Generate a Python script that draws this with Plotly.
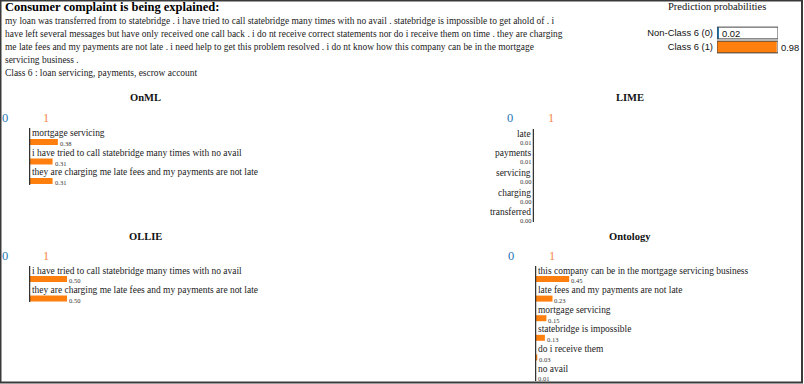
import plotly.graph_objects as go

# ---------------- data ----------------
title_text = "Consumer complaint is being explained:"
complaint_lines = [
    "my loan was transferred from to statebridge . i have tried to call statebridge many times with no avail . statebridge is impossible to get ahold of . i",
    "have left several messages but have only received one call back . i do nt receive correct statements nor do i receive them on time . they are charging",
    "me late fees and my payments are not late . i need help to get this problem resolved . i do nt know how this company can be in the mortgage",
    "servicing business .",
]
class_line = "Class 6 : loan servicing, payments, escrow account"

proba_title = "Prediction probabilities"
proba_labels = ["Non-Class 6 (0)", "Class 6 (1)"]
proba_values = [0.02, 0.98]

class_names = ["0", "1"]

onml_features = ["mortgage servicing",
                 "i have tried to call statebridge many times with no avail",
                 "they are charging me late fees and my payments are not late"]
onml_weights = [0.38, 0.31, 0.31]

lime_features = ["late", "payments", "servicing", "charging", "transferred"]
lime_weights = [0.01, 0.01, 0.00, 0.00, 0.00]

ollie_features = ["i have tried to call statebridge many times with no avail",
                  "they are charging me late fees and my payments are not late"]
ollie_weights = [0.50, 0.50]

onto_features = ["this company can be in the mortgage servicing business",
                 "late fees and my payments are not late",
                 "mortgage servicing",
                 "statebridge is impossible",
                 "do i receive them",
                 "no avail"]
onto_weights = [0.45, 0.23, 0.15, 0.13, 0.03, 0.01]

# ---------------- layout helpers ----------------
W, H = 804, 384
def px(x):
    return x / W
def py(y):
    return 1 - y / H

SERIF = "Liberation Serif"
SANS = "Liberation Sans"
BLUE = "#1f77b4"
ORANGE = "#ff7f0e"
PX_PER_UNIT = 76.0
TXT = 9.45

fig = go.Figure()
annotations = []
shapes = []
layout_axes = {}

# header text
annotations.append(dict(text="<b>%s</b>" % title_text, x=px(3), y=py(7), xref="paper", yref="paper",
                        xanchor="left", yanchor="middle", showarrow=False,
                        font=dict(family=SERIF, size=12.5, color="#000")))
for i, line in enumerate(complaint_lines):
    annotations.append(dict(text=line, x=px(3), y=py(21 + i * 12.9), xref="paper", yref="paper",
                            xanchor="left", yanchor="middle", showarrow=False,
                            font=dict(family=SERIF, size=TXT, color="#222")))
annotations.append(dict(text=class_line, x=px(3), y=py(73), xref="paper", yref="paper",
                        xanchor="left", yanchor="middle", showarrow=False,
                        font=dict(family=SERIF, size=TXT, color="#222")))

# ---------------- prediction probabilities ----------------
layout_axes["xaxis"] = dict(domain=[px(717), px(778)], range=[0, 1], visible=False, fixedrange=True)
layout_axes["yaxis"] = dict(domain=[py(54), py(26)], range=[1.5, -0.5], anchor="x",
                            tickvals=list(range(len(proba_labels))), ticktext=proba_labels,
                            showgrid=False, zeroline=False, showline=False, ticks="",
                            ticklabelstandoff=3, fixedrange=True,
                            tickfont=dict(family=SANS, size=9.4, color="#111"))
fig.add_trace(go.Bar(x=proba_values, y=list(range(len(proba_values))), orientation="h",
                     marker=dict(color=[BLUE, ORANGE], line=dict(width=0)), width=0.84,
                     xaxis="x", yaxis="y", showlegend=False, hoverinfo="skip"))
fig.add_trace(go.Bar(x=[1] * len(proba_values), y=list(range(len(proba_values))), orientation="h",
                     marker=dict(color="rgba(0,0,0,0)", line=dict(width=1, color="#444")), width=0.84,
                     xaxis="x", yaxis="y", showlegend=False, hoverinfo="skip"))
for i, v in enumerate(proba_values):
    annotations.append(dict(text="%.2f" % v, x=v, y=i, xref="x", yref="y", xanchor="left",
                            yanchor="middle", xshift=2, showarrow=False,
                            font=dict(family=SANS, size=9.4, color="#111")))
annotations.append(dict(text=proba_title, x=px(717), y=py(7), xref="paper", yref="paper",
                        xanchor="center", yanchor="middle", showarrow=False,
                        font=dict(family=SERIF, size=10.5, color="#111")))

# ---------------- explanation panels ----------------
panels = [
    # name, features, weights, axis x px, first bar y px, spacing, line top, line bottom, side, title y
    ("OnML", onml_features, onml_weights, 29, 142, 19.5, 128, 185, "right", 98),
    ("LIME", lime_features, lime_weights, 534, 142, 19.7, 129, 222, "left", 98),
    ("OLLIE", ollie_features, ollie_weights, 29, 279, 19.5, 266, 302, "right", 236),
    ("Ontology", onto_features, onto_weights, 535, 279, 19.6, 266, 381, "right", 236),
]

for k, (name, feats, wts, axx, bar0, sp, ltop, lbot, side, title_y) in enumerate(panels):
    n = k + 2
    xa, ya = "x%d" % n, "y%d" % n
    if side == "right":
        xdom = [px(axx), px(axx + 260)]
        xr = [0, 260 / PX_PER_UNIT]
        vals = list(wts)
        col = ORANGE
    else:
        xdom = [px(axx - 200), px(axx)]
        xr = [-200 / PX_PER_UNIT, 0]
        vals = [-w for w in wts]
        col = BLUE
    r_top = (ltop - bar0) / sp
    r_bot = (lbot - bar0) / sp
    layout_axes["xaxis%d" % n] = dict(domain=xdom, range=xr, visible=False, fixedrange=True, anchor=ya)
    layout_axes["yaxis%d" % n] = dict(domain=[py(lbot), py(ltop)], range=[r_bot, r_top],
                                      visible=False, fixedrange=True, anchor=xa)
    rows = list(range(len(feats)))
    fig.add_trace(go.Bar(x=vals, y=rows, orientation="h", width=6 / sp,
                         marker=dict(color=col, line=dict(width=0)),
                         xaxis=xa, yaxis=ya, showlegend=False, hoverinfo="skip"))
    shapes.append(dict(type="line", xref=xa, yref=ya + " domain", x0=0, x1=0, y0=0, y1=1,
                       line=dict(color="#333", width=2.5)))
    lab_off = 8.5 / sp
    for i, (f, w, v) in enumerate(zip(feats, wts, vals)):
        if side == "right":
            annotations.append(dict(text=f, x=0, y=i - lab_off, xref=xa, yref=ya, xanchor="left",
                                    yanchor="middle", xshift=1, showarrow=False,
                                    font=dict(family=SERIF, size=TXT, color="#222")))
            annotations.append(dict(text="%.2f" % w, x=v, y=i + 0.1, xref=xa, yref=ya, xanchor="left",
                                    yanchor="middle", xshift=0, showarrow=False,
                                    font=dict(family=SERIF, size=6.5, color="#333")))
        else:
            annotations.append(dict(text=f, x=0, y=i - lab_off, xref=xa, yref=ya, xanchor="right",
                                    yanchor="middle", xshift=-1, showarrow=False,
                                    font=dict(family=SERIF, size=TXT, color="#222")))
            annotations.append(dict(text="%.2f" % w, x=0, y=i, xref=xa, yref=ya, xanchor="right",
                                    yanchor="middle", xshift=-1, showarrow=False,
                                    font=dict(family=SERIF, size=6.5, color="#333")))
    # panel title
    title_x = 145 if axx < 400 else 630
    annotations.append(dict(text="<b>%s</b>" % name, x=px(title_x), y=py(title_y), xref="paper", yref="paper",
                            xanchor="center", yanchor="middle", showarrow=False,
                            font=dict(family=SERIF, size=10.5, color="#111")))
    # class headers
    annotations.append(dict(text=class_names[0], x=px(axx - 24), y=py(title_y + 20), xref="paper", yref="paper",
                            xanchor="center", yanchor="middle", showarrow=False,
                            font=dict(family=SERIF, size=12.5, color=BLUE)))
    annotations.append(dict(text=class_names[1], x=px(axx + 17), y=py(title_y + 20), xref="paper", yref="paper",
                            xanchor="center", yanchor="middle", showarrow=False,
                            font=dict(family=SERIF, size=12.5, color="#f58a4b")))

# page border
shapes.append(dict(type="rect", xref="paper", yref="paper", x0=px(0.5), x1=px(802), y0=py(382.5), y1=py(0.5),
                   line=dict(color="#3a3a3a", width=2), fillcolor="rgba(0,0,0,0)", layer="above"))

fig.update_layout(width=W, height=H, margin=dict(l=0, r=0, t=0, b=0),
                  paper_bgcolor="white", plot_bgcolor="rgba(0,0,0,0)",
                  barmode="overlay", annotations=annotations, shapes=shapes, **layout_axes)

fig.write_html("out.html", config={"displayModeBar": False},
               post_script="document.body.style.margin='0';document.body.style.padding='0';"
                           "document.body.style.overflow='hidden';")
